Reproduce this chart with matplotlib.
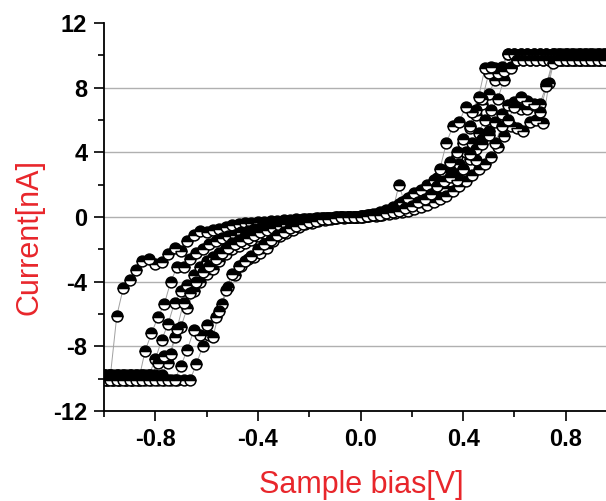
import matplotlib
matplotlib.use("Agg")
import matplotlib.pyplot as plt
from matplotlib.ticker import MultipleLocator

# Bias grids (two interleaved sweep grids)
V1 = [-1.000, -0.975, -0.950, -0.925, -0.900, -0.875, -0.850, -0.825, -0.800, -0.775,
      -0.750, -0.725, -0.700, -0.675, -0.650, -0.625, -0.600, -0.575, -0.550, -0.525,
      -0.500, -0.475, -0.450, -0.425, -0.400, -0.375, -0.350, -0.325, -0.300, -0.275,
      -0.250, -0.225, -0.200, -0.175, -0.150, -0.125, -0.100, -0.075, -0.050, -0.025,
      0.000, 0.025, 0.050, 0.075, 0.100, 0.125, 0.150, 0.175, 0.200, 0.225,
      0.250, 0.275, 0.300, 0.325, 0.350, 0.375, 0.400, 0.425, 0.450, 0.475,
      0.500, 0.525, 0.550, 0.575, 0.600, 0.625, 0.650, 0.675, 0.700, 0.725,
      0.750, 0.775, 0.800, 0.825, 0.850, 0.875, 0.900, 0.925, 0.950]
V2 = [-0.990, -0.965, -0.940, -0.915, -0.890, -0.865, -0.840, -0.815, -0.790, -0.765,
      -0.740, -0.715, -0.690, -0.665, -0.640, -0.615, -0.590, -0.565, -0.540, -0.515,
      -0.490, -0.465, -0.440, -0.415, -0.390, -0.365, -0.340, -0.315, -0.290, -0.265,
      -0.240, -0.215, -0.190, -0.165, -0.140, -0.115, -0.090, -0.065, -0.040, -0.015,
      0.010, 0.035, 0.060, 0.085, 0.110, 0.135, 0.160, 0.185, 0.210, 0.235,
      0.260, 0.285, 0.310, 0.335, 0.360, 0.385, 0.410, 0.435, 0.460, 0.485,
      0.510, 0.535, 0.560, 0.585, 0.610, 0.635, 0.660, 0.685, 0.710, 0.735,
      0.760, 0.785, 0.810, 0.835, 0.860, 0.885, 0.910, 0.935, 0.960]

# Current sweeps [nA]
I_a = [-9.8, -9.8, -6.1, -4.4, -3.9, -3.3, -2.7, -2.6, -2.9, -2.8,
       -2.3, -1.9, -2.1, -1.5, -1.1, -0.85, -0.9, -0.8, -0.75, -0.6,
       -0.5, -0.45, -0.4, -0.35, -0.3, -0.28, -0.25, -0.22, -0.2, -0.17,
       -0.15, -0.12, -0.1, -0.08, -0.06, -0.05, -0.03, -0.02, -0.01, 0.0,
       0.02, 0.05, 0.1, 0.15, 0.25, 0.35, 2.0, 0.7, 0.9, 1.1,
       1.4, 1.7, 2.0, 2.6, 3.2, 3.8, 4.6, 5.5, 6.3, 7.0,
       7.6, 8.5, 9.3, 10.1, 10.1, 10.1, 10.1, 10.1, 10.1, 10.1,
       10.1, 10.1, 10.1, 10.1, 10.1, 10.1, 10.1, 10.1, 10.1]
I_b = [-10.1, -10.1, -10.1, -10.1, -10.1, -10.1, -8.3, -7.2, -6.2, -5.4,
       -4.0, -3.1, -3.1, -2.6, -2.2, -2.0, -1.7, -1.5, -1.3, -1.2,
       -1.1, -0.95, -0.85, -0.75, -0.65, -0.55, -0.45, -0.38, -0.3, -0.25,
       -0.2, -0.15, -0.12, -0.09, -0.07, -0.05, -0.03, -0.02, 0.0, 0.02,
       0.05, 0.1, 0.15, 0.25, 0.35, 0.5, 0.65, 0.85, 1.0, 1.2,
       1.4, 1.6, 2.0, 2.3, 2.8, 3.3, 4.0, 4.6, 5.2, 6.0,
       6.6, 7.3, 8.5, 9.3, 9.7, 9.7, 9.7, 9.7, 9.7, 9.7,
       9.7, 9.7, 9.7, 9.7, 9.7, 9.7, 9.7, 9.7, 9.7]
I_c = [-9.8, -9.8, -9.8, -9.8, -9.8, -9.8, -9.8, -9.8, -8.8, -7.6,
       -6.6, -5.3, -4.6, -4.2, -3.6, -3.1, -2.7, -2.5, -2.2, -1.9,
       -1.6, -1.4, -1.2, -1.0, -0.85, -0.7, -0.6, -0.5, -0.4, -0.32,
       -0.25, -0.2, -0.15, -0.12, -0.09, -0.06, -0.04, -0.02, 0.0, 0.02,
       0.04, 0.08, 0.12, 0.18, 0.25, 0.32, 0.4, 0.5, 0.65, 0.8,
       1.0, 1.2, 1.5, 1.8, 2.2, 2.6, 3.0, 3.6, 4.2, 4.8,
       5.3, 5.9, 6.4, 6.9, 7.1, 6.7, 6.7, 6.9, 7.0, 8.2,
       9.7, 9.7, 9.7, 9.7, 9.7, 9.7, 9.7, 9.7, 9.7]
I_d = [-10.1, -10.1, -10.1, -10.1, -10.1, -10.1, -10.1, -10.1, -10.1, -10.1,
       -10.1, -10.1, -10.1, -10.1, -9.1, -8.0, -7.3, -6.2, -5.4, -4.3,
       -3.6, -3.0, -2.6, -2.5, -2.2, -1.9, -1.5, -1.2, -1.0, -0.8,
       -0.6, -0.45, -0.35, -0.25, -0.18, -0.12, -0.08, -0.05, -0.02, 0.0,
       0.02, 0.05, 0.08, 0.12, 0.18, 0.25, 0.32, 0.4, 0.5, 0.6,
       0.75, 0.9, 1.1, 1.3, 1.6, 1.9, 2.2, 2.6, 3.0, 3.3,
       3.7, 4.3, 5.0, 5.6, 5.5, 5.3, 5.9, 6.0, 5.8, 8.3,
       10.1, 10.1, 10.1, 10.1, 10.1, 10.1, 10.1, 10.1, 10.1]
I_e = [-9.8, -9.8, -9.8, -9.8, -9.8, -9.8, -9.8, -9.8, -9.8, -9.8,
       -9.0, -7.4, -6.8, -5.6, -4.6, -4.0, -3.5, -3.2, -2.7, -2.3,
       -2.0, -1.8, -1.6, -1.4, -1.2, -1.0, -0.85, -0.7, -0.55, -0.45,
       -0.35, -0.28, -0.2, -0.15, -0.1, -0.07, -0.04, -0.02, 0.0, 0.03,
       0.06, 0.1, 0.18, 0.3, 0.45, 0.6, 0.8, 1.0, 1.3, 1.5,
       1.7, 2.0, 2.4, 2.8, 3.4, 4.0, 4.8, 5.6, 6.6, 7.3,
       8.9, 9.2, 9.0, 10.1, 10.1, 10.1, 10.1, 10.1, 10.1, 10.1,
       10.1, 10.1, 10.1, 10.1, 10.1, 10.1, 10.1, 10.1, 10.1]
I_f = [-9.8, -9.8, -9.8, -9.8, -9.8, -9.8, -9.8, -9.8, -9.0, -8.6,
       -8.5, -6.9, -5.3, -4.7, -4.0, -3.4, -3.0, -2.6, -2.2, -1.9,
       -1.7, -1.5, -1.3, -1.1, -0.95, -0.8, -0.65, -0.55, -0.45, -0.35,
       -0.28, -0.22, -0.16, -0.12, -0.08, -0.05, -0.03, -0.01, 0.01, 0.03,
       0.06, 0.1, 0.16, 0.24, 0.4, 0.5, 0.9, 1.2, 1.5, 1.7,
       2.0, 2.3, 3.0, 4.6, 5.6, 5.9, 6.8, 6.5, 7.4, 9.2,
       9.3, 8.9, 9.0, 9.2, 9.7, 9.7, 9.7, 9.7, 9.7, 9.7,
       9.7, 9.7, 9.7, 9.7, 9.7, 9.7, 9.7, 9.7, 9.7]
I_g = [-10.1, -10.1, -10.1, -10.1, -10.1, -10.1, -10.1, -10.1, -10.1, -10.1,
       -10.1, -10.1, -9.2, -8.2, -7.0, -7.3, -6.7, -7.4, -5.8, -4.5,
       -3.5, -3.0, -2.7, -2.4, -2.0, -1.7, -1.4, -1.1, -0.9, -0.7,
       -0.55, -0.42, -0.3, -0.22, -0.15, -0.1, -0.06, -0.03, -0.01, 0.01,
       0.03, 0.06, 0.1, 0.15, 0.22, 0.3, 0.4, 0.55, 0.7, 0.9,
       1.1, 1.4, 1.9, 2.2, 2.5, 2.3, 3.0, 3.9, 3.5, 4.5,
       5.1, 4.6, 5.6, 6.0, 6.8, 7.4, 7.2, 7.0, 6.5, 8.1,
       9.5, 9.7, 9.7, 9.7, 9.7, 9.7, 9.7, 9.7, 9.7]

sweeps = [(V1, I_a), (V2, I_b), (V1, I_c), (V2, I_d), (V1, I_e), (V2, I_f), (V1, I_g)]

x_ticks = [-0.8, -0.4, 0.0, 0.4, 0.8]
y_ticks = [-12, -8, -4, 0, 4, 8, 12]

fig = plt.figure(figsize=(6.06, 5.01), dpi=100)
ax = fig.add_axes([0.1716, 0.1796, 0.8284, 0.7745])

for yv in [-8, -4, 0, 4, 8]:
    ax.axhline(yv, color="#b0b0b0", lw=1.0, zorder=0)

for vx, iy in sweeps:
    ax.plot(vx, iy, color="#a0a0a0", lw=0.7, zorder=1)
    ax.plot(vx, iy, ls="none", marker="o", ms=7.8, fillstyle="top",
            markerfacecolor="black", markerfacecoloralt="white",
            markeredgecolor="black", markeredgewidth=1.1, zorder=2)

ax.set_xlim(-1.0, 0.957)
ax.set_ylim(-12, 12)
ax.set_xticks(x_ticks)
ax.set_yticks(y_ticks)
ax.set_xticklabels([f"{v:.1f}" for v in x_ticks])
ax.set_yticklabels([str(v) for v in y_ticks])
ax.xaxis.set_minor_locator(MultipleLocator(0.2))
ax.yaxis.set_minor_locator(MultipleLocator(2))
ax.tick_params(which="both", direction="out", width=1.2, color="black")
ax.tick_params(which="major", length=7, pad=5)
ax.tick_params(which="minor", length=4)
for lab in ax.get_xticklabels() + ax.get_yticklabels():
    lab.set_fontfamily("Liberation Sans")
    lab.set_fontweight("bold")
    lab.set_fontsize(17)
ax.spines["top"].set_visible(False)
ax.spines["right"].set_visible(False)
ax.spines["left"].set_linewidth(1.3)
ax.spines["bottom"].set_linewidth(1.3)

ax.set_xlabel("Sample bias[V]", color="#e8262b", fontsize=22,
              fontfamily="Liberation Sans", va="center")
ax.set_ylabel("Current[nA]", color="#e8262b", fontsize=22,
              fontfamily="Liberation Sans", va="center")
ax.xaxis.set_label_coords(0.512, -0.19)
ax.yaxis.set_label_coords(-0.149, 0.448)

fig.savefig("out.png", dpi=100)
